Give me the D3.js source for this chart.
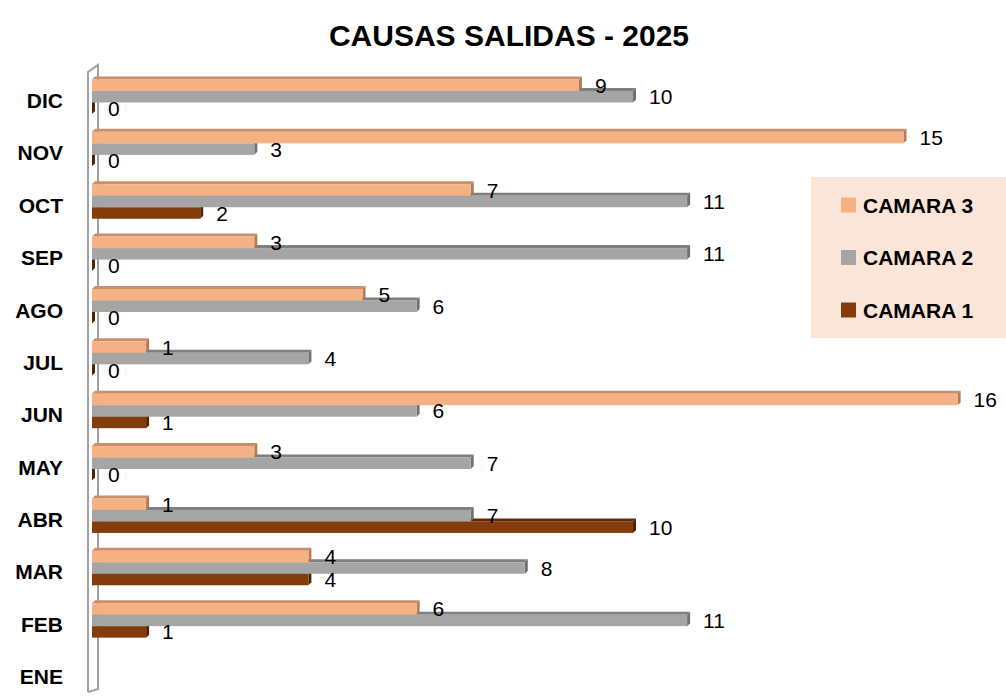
<!DOCTYPE html>
<html>
<head>
<meta charset="utf-8">
<script src="https://cdn.jsdelivr.net/npm/d3@7"></script>
<style>
    body { margin: 0; background: #fff; }
    svg { display: block; font-family: "Liberation Sans", Arial, sans-serif; }
</style>
</head>
<body>
<div id="chart"></div>
<script>
    var months = ['DIC', 'NOV', 'OCT', 'SEP', 'AGO', 'JUL', 'JUN', 'MAY', 'ABR', 'MAR', 'FEB', 'ENE'];
    var camara3 = [9, 15, 7, 3, 5, 1, 16, 3, 1, 4, 6, null];
    var camara2 = [10, 3, 11, 11, 6, 4, 6, 7, 7, 8, 11, null];
    var camara1 = [0, 0, 2, 0, 0, 0, 1, 0, 10, 4, 1, null];
    var seriesNames = ['CAMARA 3', 'CAMARA 2', 'CAMARA 1'];

    var width = 1006, height = 696;
    var barH = 11.5, depth = 3;

    var series = [
        { name: seriesNames[0], values: camara3, front: '#F4B183', top: '#C98E6C', side: '#B47A58', offset: -20.5 },
        { name: seriesNames[1], values: camara2, front: '#A5A5A5', top: '#7F7F7F', side: '#707070', offset: -9 },
        { name: seriesNames[2], values: camara1, front: '#843C0C', top: '#5E2A08', side: '#4F2306', offset: 2.5 }
    ];

    var svg = d3.select('#chart')
        .append('svg')
        .attr('width', width)
        .attr('height', height);

    var x = d3.scaleLinear().domain([0, 16]).range([92, 957.6]);
    var y = d3.scalePoint().domain(months).range([100, 676]);

    // title
    svg.append('text')
        .attr('x', 509)
        .attr('y', 46)
        .attr('text-anchor', 'middle')
        .style('font-size', '30px')
        .style('font-weight', 'bold')
        .text('CAUSAS SALIDAS - 2025');

    // wall
    svg.append('path')
        .attr('d', 'M88,692 V72 L98,65 V689 L88,692')
        .attr('fill', 'none')
        .attr('stroke', '#A0A0A0')
        .attr('stroke-width', 2);

    // category labels
    var yAxis = d3.axisLeft(y).tickSize(0).tickPadding(0);
    var axisG = svg.append('g')
        .attr('transform', 'translate(63,0)')
        .call(yAxis);
    axisG.select('.domain').remove();
    axisG.selectAll('text')
        .attr('dy', '0.36em')
        .style('font-size', '21px')
        .style('font-weight', 'bold')
        .style('font-family', '"Liberation Sans", Arial, sans-serif')
        .attr('fill', '#000');

    // bars, drawn bottom series first so the upper bars cover their top faces
    var drawOrder = series.slice().reverse();
    drawOrder.forEach(function (s) {
        var data = months.map(function (m, i) {
            return { month: m, value: s.values[i] };
        }).filter(function (d) { return d.value !== null; });

        var g = svg.append('g').selectAll('g')
            .data(data)
            .enter()
            .append('g');

        g.append('path')
            .attr('fill', s.top)
            .attr('d', function (d) {
                var y0 = y(d.month) + s.offset;
                var x1 = x(d.value);
                return 'M' + x(0) + ',' + y0 + 'L' + (x(0) + depth) + ',' + (y0 - depth) +
                    'L' + (x1 + depth) + ',' + (y0 - depth) + 'L' + x1 + ',' + y0 + 'Z';
            });

        g.append('path')
            .attr('fill', s.side)
            .attr('d', function (d) {
                var y0 = y(d.month) + s.offset;
                var x1 = x(d.value);
                return 'M' + x1 + ',' + y0 + 'L' + (x1 + depth) + ',' + (y0 - depth) +
                    'L' + (x1 + depth) + ',' + (y0 + barH - depth) + 'L' + x1 + ',' + (y0 + barH) + 'Z';
            });

        g.append('rect')
            .attr('x', x(0))
            .attr('y', function (d) { return y(d.month) + s.offset; })
            .attr('width', function (d) { return x(d.value) - x(0); })
            .attr('height', barH)
            .attr('fill', s.front);
    });

    // value labels
    series.forEach(function (s) {
        var data = months.map(function (m, i) {
            return { month: m, value: s.values[i] };
        }).filter(function (d) { return d.value !== null; });

        svg.append('g').selectAll('text')
            .data(data)
            .enter()
            .append('text')
            .attr('x', function (d) { return x(d.value) + 16; })
            .attr('y', function (d) { return y(d.month) + s.offset + barH / 2; })
            .attr('dy', '0.36em')
            .style('font-size', '21px')
            .attr('fill', '#000')
            .text(function (d) { return d.value; });
    });

    // legend
    var legend = svg.append('g');
    legend.append('rect')
        .attr('x', 811)
        .attr('y', 177)
        .attr('width', 200)
        .attr('height', 161)
        .attr('fill', '#FAE5D8');

    var items = legend.selectAll('g')
        .data(series)
        .enter()
        .append('g')
        .attr('transform', function (d, i) {
            return 'translate(841,' + (205 + i * 52.5) + ')';
        });

    items.append('rect')
        .attr('x', 0)
        .attr('y', -7.5)
        .attr('width', 15)
        .attr('height', 15)
        .attr('fill', function (d) { return d.front; });

    items.append('text')
        .attr('x', 22)
        .attr('y', 0)
        .attr('dy', '0.36em')
        .style('font-size', '21px')
        .style('font-weight', 'bold')
        .text(function (d) { return d.name; });
</script>
</body>
</html>
